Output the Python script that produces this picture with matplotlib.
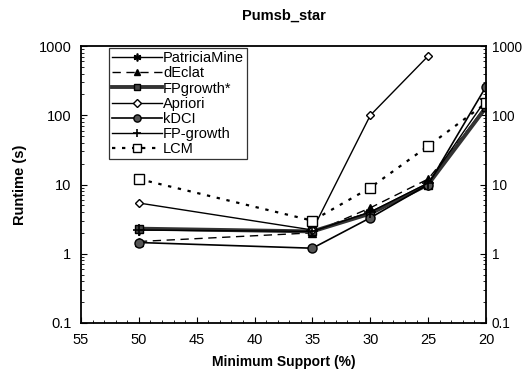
import matplotlib
matplotlib.use("Agg")
import matplotlib.pyplot as plt
from matplotlib.ticker import LogLocator, NullFormatter, FixedLocator, MultipleLocator

plt.rcParams['font.family'] = ['Liberation Sans', 'DejaVu Sans']

support = [50, 35, 30, 25, 20]
apriori_support = [50, 35, 30, 25]

patriciamine = [2.2, 2.1, 4.0, 10.0, 140]
declat = [1.5, 2.0, 4.6, 12.0, 130]
fpgrowth_star = [2.3, 2.1, 3.8, 10.0, 130]
apriori = [5.4, 2.2, 100, 720]
kdci = [1.45, 1.2, 3.3, 10.0, 260]
fpgrowth = [2.2, 2.1, 4.0, 10.5, 170]
lcm = [12.0, 3.0, 9.0, 36.0, 150]

x_ticks = [55, 50, 45, 40, 35, 30, 25, 20]
y_ticks = [0.1, 1, 10, 100, 1000]
y_labels = ['0.1', '1', '10', '100', '1000']

fig = plt.figure(figsize=(5.26, 3.75), dpi=100)
ax = fig.add_axes([0.154, 0.139, 0.770, 0.738])

ax.plot(support, patriciamine, color='black', lw=1.0, marker=(6, 2, 0), ms=7,
        mew=1.2, label='PatriciaMine')
ax.plot(support, declat, color='black', lw=1.0, ls=(0, (6, 4)), marker='^', ms=6,
        mfc='black', label='dEclat')
ax.plot(support, fpgrowth_star, color='#333333', lw=2.8, marker='s', ms=6,
        mfc='#444444', mec='black', label='FPgrowth*')
ax.plot(apriori_support, apriori, color='black', lw=1.0, marker='D', ms=4.5,
        mfc='white', mec='black', label='Apriori')
ax.plot(support, kdci, color='black', lw=1.2, marker='o', ms=6.5,
        mfc='#555555', mec='black', label='kDCI')
ax.plot(support, fpgrowth, color='black', lw=1.0, marker='+', ms=8, mew=1.2,
        label='FP-growth')
ax.plot(support, lcm, color='black', lw=1.6, ls=(0, (1.5, 3)), marker='s', ms=7,
        mfc='white', mec='black', mew=1.0, label='LCM')

ax.set_yscale('log')
ax.set_ylim(0.1, 1000)
ax.set_xlim(55, 20)
ax.xaxis.set_major_locator(FixedLocator(x_ticks))
ax.xaxis.set_minor_locator(MultipleLocator(1))
ax.set_yticks(y_ticks)
ax.set_yticklabels(y_labels)
ax.yaxis.set_minor_locator(LogLocator(base=10, subs=range(2, 10)))
ax.yaxis.set_minor_formatter(NullFormatter())
ax.tick_params(axis='both', which='both', direction='in', labelsize=10.5)
ax.tick_params(axis='y', which='both', right=True, labelright=True)
ax.tick_params(axis='x', which='major', length=4, pad=7)
ax.tick_params(axis='y', which='major', length=4, pad=7)
ax.tick_params(which='minor', length=2)
for lbl in ax.get_yticklabels(which='major'):
    pass
for t in ax.yaxis.get_major_ticks():
    t.label2.set_fontsize(10)
    t.set_pad(7)
ax.tick_params(axis='y', which='major', labelsize=10.5)
for t in ax.yaxis.get_major_ticks():
    t.label2.set_fontsize(9.8)
for s in ax.spines.values():
    s.set_linewidth(1.3)

ax.set_xlabel('Minimum Support (%)', fontsize=10, fontweight='bold', labelpad=6)
ax.set_ylabel('Runtime (s)', fontsize=10.5, fontweight='bold', labelpad=8)
ax.set_title('Pumsb_star', fontsize=10.5, fontweight='bold', pad=19)

leg = ax.legend(loc='upper left', bbox_to_anchor=(0.064, 1.0), fontsize=10.5,
                frameon=True, fancybox=False, edgecolor='black', handlelength=3.4,
                handletextpad=0.1, labelspacing=0.08, borderpad=0.2,
                borderaxespad=0.15, markerscale=0.8)
leg.get_frame().set_linewidth(0.9)

fig.canvas.draw()
# shift right-hand labels slightly left so they stay within the figure
import matplotlib.transforms as mtransforms
offset = mtransforms.ScaledTranslation(-3 / 72, 0, fig.dpi_scale_trans)
for t in ax.yaxis.get_major_ticks():
    t.label2.set_transform(t.label2.get_transform() + offset)

fig.savefig('out.png', dpi=100)
